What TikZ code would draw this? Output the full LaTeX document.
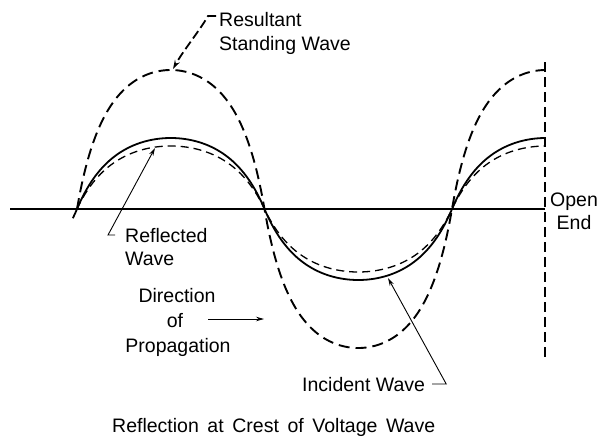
\documentclass[tikz,border=0pt]{standalone}
\usepackage{fontspec}
\setmainfont{Liberation Sans}
\usetikzlibrary{arrows.meta}
\begin{document}
\begin{tikzpicture}[x=1pt,y=-1pt,
  lbl/.style={inner sep=0pt, font=\fontsize{19.5}{23}\selectfont},
  incw/.style={line width=1.8pt},
  refw/.style={line width=1.3pt, dash pattern=on 8pt off 5pt},
  stdw/.style={line width=1.9pt, dash pattern=on 11pt off 6pt},
  axisline/.style={line width=1.1pt},
  endline/.style={line width=1.2pt, dash pattern=on 10pt off 5pt},
  leader/.style={line width=0.9pt, -{Stealth[length=8pt,width=4.5pt]}},
  leaderdash/.style={line width=1.8pt, dash pattern=on 9pt off 4pt, -{Stealth[length=9pt,width=5.5pt]}},
]
\useasboundingbox (0,0) rectangle (601,439);

% axis and open end
\coordinate (axL) at (10,209);
\coordinate (axR) at (545,209);
\coordinate (endT) at (545,62);
\coordinate (endB) at (545,357);
\draw[axisline] (axL) -- (axR);
\draw[endline] (endT) -- (endB);

% waves
\draw[stdw] plot[domain=0:450, samples=181, smooth]
  ({77+1.0416667*\x}, {209-139*2.5*sin(\x)/(1+1.5*abs(sin(\x)))});
\draw[incw] plot[domain=-4:450, samples=181, smooth]
  ({77+1.0416667*\x}, {209-71*2*sin(\x)/(1+abs(sin(\x)))});
\draw[refw] plot[domain=0:450, samples=181, smooth]
  ({77+1.0416667*\x}, {209-63*2*sin(\x)/(1+abs(sin(\x)))});

% labels
\node[lbl, anchor=base west] (res) at (219,26) {Resultant};
\node[lbl, anchor=base west] (stand) at (219,50) {Standing Wave};
\node[lbl, anchor=base west] (refl) at (125,242) {Reflected};
\node[lbl, anchor=base west] (reflw) at (125,265) {Wave};
\node[lbl, anchor=base] (dir) at (177,302) {Direction};
\node[lbl, anchor=base] (of) at (175,327) {of};
\node[lbl, anchor=base] (prop) at (178,352) {Propagation};
\node[lbl, anchor=base west] (inc) at (302,391) {Incident Wave};
\node[lbl, anchor=base] (open) at (574,206.5) {Open};
\node[lbl, anchor=base] (endn) at (574,229) {End};
\node[lbl, anchor=base west] (title) at (112,432) {\spaceskip=8.6pt Reflection at Crest of Voltage Wave};

% leaders
\coordinate (stpeak) at (173,69);
\coordinate (refpt) at (155,148);
\coordinate (incpt) at (388,278);
\coordinate (dirA) at (208,319);
\coordinate (dirB) at (264,319);
\draw[leaderdash] ([shift={(-3pt,3pt)}]res.west) -- ++(-8,0)
  .. controls +(-8,14) and +(10,-18) .. (stpeak);
\draw[leader] ([xshift=-10pt]refl.west) -- ++(-7,0) -- (refpt);
\draw[leader] ([xshift=7pt]inc.east) -- ++(14,0) -- (incpt);
\draw[leader] (dirA) -- (dirB);
\end{tikzpicture}
\end{document}
